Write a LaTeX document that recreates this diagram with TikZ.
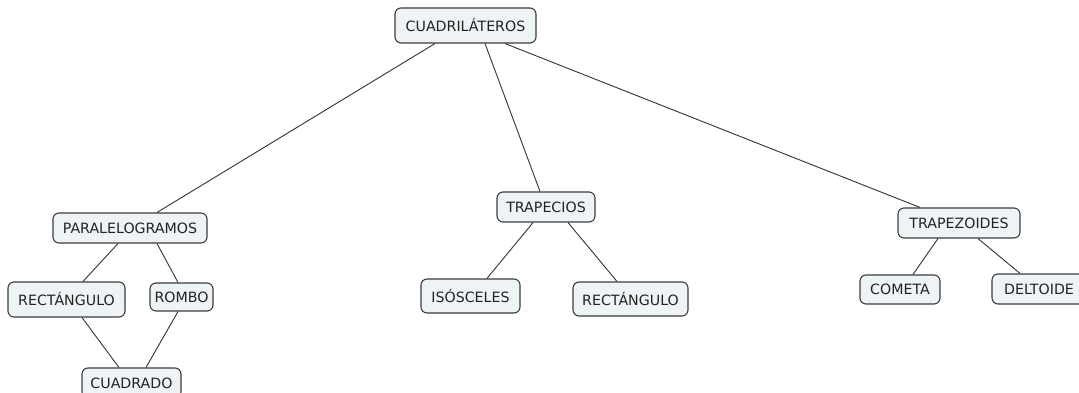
\documentclass[tikz,border=0pt]{standalone}
\usepackage{fontspec}
\setmainfont{DejaVu Sans}
\definecolor{boxfill}{RGB}{238,243,245}
\definecolor{boxline}{RGB}{60,60,60}
\definecolor{linkline}{RGB}{50,50,50}
\definecolor{txt}{RGB}{35,35,35}
\begin{document}
\begin{tikzpicture}[x=1pt,y=-1pt,
  concept/.style={draw=boxline, line width=1.1pt, fill=boxfill, rounded corners=6pt,
    inner sep=0pt, text=txt, font=\fontsize{14.2}{16}\selectfont},
  link/.style={draw=linkline, line width=0.9pt}]
\useasboundingbox (0,0) rectangle (1079,393);
% concepts
\node[concept, minimum width=141pt, minimum height=35pt] (cuad) at (465.5,25.5) {CUADRILÁTEROS};
\node[concept, minimum width=154pt, minimum height=30pt] (par) at (130,228) {PARALELOGRAMOS};
\node[concept, minimum width=117pt, minimum height=35pt] (rectL) at (66.5,299.5) {RECTÁNGULO};
\node[concept, minimum width=63pt, minimum height=28pt] (rombo) at (181.5,297) {ROMBO};
\node[concept, minimum width=99pt, minimum height=30pt] (cuadrado) at (131.5,383) {CUADRADO};
\node[concept, minimum width=98pt, minimum height=30pt] (trap) at (546,207) {TRAPECIOS};
\node[concept, minimum width=99pt, minimum height=34pt] (iso) at (470.5,296) {ISÓSCELES};
\node[concept, minimum width=115pt, minimum height=34pt] (rectR) at (630.5,299) {RECTÁNGULO};
\node[concept, minimum width=122pt, minimum height=30pt] (trapz) at (959,223) {TRAPEZOIDES};
\node[concept, minimum width=80pt, minimum height=29pt] (cometa) at (900,289.5) {COMETA};
\node[concept, minimum width=94pt, minimum height=30pt] (delt) at (1039,289) {DELTOIDE};
% links between concepts
\draw[link] ([xshift=-30.5pt]cuad.south) -- ([xshift=27pt]par.north);
\draw[link] ([xshift=19.5pt]cuad.south) -- ([xshift=-6pt]trap.north);
\draw[link] ([xshift=39.5pt]cuad.south) -- ([xshift=-39pt]trapz.north);
\draw[link] ([xshift=-12pt]par.south) -- ([xshift=16.5pt]rectL.north);
\draw[link] ([xshift=27pt]par.south) -- ([xshift=-3.5pt]rombo.north);
\draw[link] ([xshift=15.5pt]rectL.south) -- ([xshift=-12.5pt]cuadrado.north);
\draw[link] ([xshift=-3.5pt]rombo.south) -- ([xshift=14.5pt]cuadrado.north);
\draw[link] ([xshift=-13pt]trap.south) -- ([xshift=16.5pt]iso.north);
\draw[link] ([xshift=22pt]trap.south) -- ([xshift=-13.5pt]rectR.north);
\draw[link] ([xshift=-21pt]trapz.south) -- ([xshift=13pt]cometa.north);
\draw[link] ([xshift=19pt]trapz.south) -- ([xshift=-19pt]delt.north);
\end{tikzpicture}
\end{document}
